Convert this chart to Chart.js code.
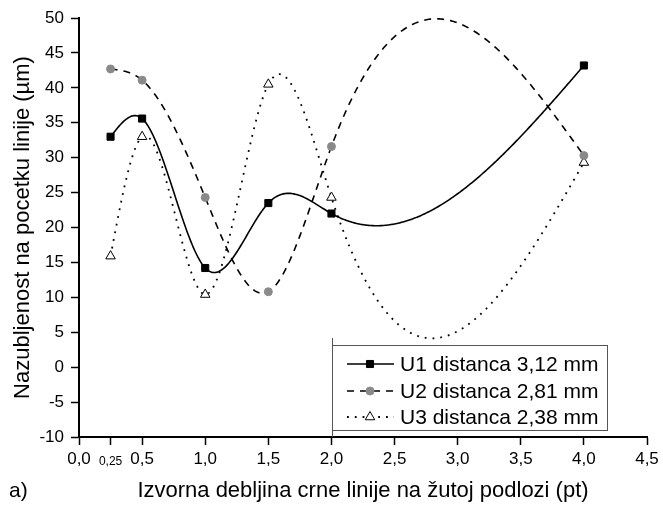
<!DOCTYPE html>
<html>
<head>
<meta charset="utf-8">
<script src="https://cdn.jsdelivr.net/npm/chart.js@4.4.1/dist/chart.umd.min.js"></script>
<style>
    html, body { margin: 0; padding: 0; background: #fff; }
    #wrap { width: 663px; height: 506px; }
</style>
</head>
<body>
<div id="wrap"><canvas id="chart" width="663" height="506"></canvas></div>
<script>
// Data
const xValues = [0.25, 0.5, 1.0, 1.5, 2.0, 4.0];
const u1Values = [33.0, 35.6, 14.2, 23.5, 22.0, 43.2];
const u2Values = [42.7, 41.1, 24.3, 10.8, 31.6, 30.3];
const u3Values = [15.9, 33.0, 10.4, 40.5, 24.3, 29.3];
const seriesLabels = ['U1 distanca 3,12 mm', 'U2 distanca 2,81 mm', 'U3 distanca 2,38 mm'];
const xTickValues = [0, 0.25, 0.5, 1.0, 1.5, 2.0, 2.5, 3.0, 3.5, 4.0, 4.5];

const FONT = "'Liberation Sans', Arial, sans-serif";

function toPoints(ys) {
    return xValues.map((x, i) => ({ x: x, y: ys[i] }));
}

// natural cubic spline through the data points (used only when drawing the curve)
function naturalSpline(xs, ys) {
    const n = xs.length;
    const h = [], l = [1], mu = [0], z = [0];
    for (let i = 0; i < n - 1; i++) h[i] = xs[i + 1] - xs[i];
    for (let i = 1; i < n - 1; i++) {
        const alpha = 3 / h[i] * (ys[i + 1] - ys[i]) - 3 / h[i - 1] * (ys[i] - ys[i - 1]);
        l[i] = 2 * (xs[i + 1] - xs[i - 1]) - h[i - 1] * mu[i - 1];
        mu[i] = h[i] / l[i];
        z[i] = (alpha - h[i - 1] * z[i - 1]) / l[i];
    }
    const b = [], c = [], d = [];
    c[n - 1] = 0;
    for (let j = n - 2; j >= 0; j--) {
        c[j] = z[j] - mu[j] * c[j + 1];
        b[j] = (ys[j + 1] - ys[j]) / h[j] - h[j] * (c[j + 1] + 2 * c[j]) / 3;
        d[j] = (c[j + 1] - c[j]) / (3 * h[j]);
    }
    return function(x) {
        let j = 0;
        while (j < n - 2 && x > xs[j + 1]) j++;
        const dx = x - xs[j];
        return ys[j] + b[j] * dx + c[j] * dx * dx + d[j] * dx * dx * dx;
    };
}

const splinePlugin = {
    id: 'splineCurves',
    beforeDatasetsDraw(chart) {
        const ctx = chart.ctx;
        const xs = chart.scales.x, ys = chart.scales.y;
        chart.data.datasets.forEach(ds => {
            const px = ds.data.map(p => p.x);
            const py = ds.data.map(p => p.y);
            const f = naturalSpline(px, py);
            const x0 = px[0], x1 = px[px.length - 1];
            const steps = 400;
            ctx.save();
            ctx.beginPath();
            for (let i = 0; i <= steps; i++) {
                const xv = x0 + (x1 - x0) * i / steps;
                const X = xs.getPixelForValue(xv);
                const Y = ys.getPixelForValue(f(xv));
                if (i === 0) ctx.moveTo(X, Y); else ctx.lineTo(X, Y);
            }
            ctx.strokeStyle = '#000';
            ctx.lineWidth = ds.curveWidth;
            ctx.setLineDash(ds.curveDash);
            ctx.stroke();
            ctx.restore();
        });
    }
};

const legendPlugin = {
    id: 'boxLegend',
    afterDraw(chart) {
        const ctx = chart.ctx;
        const left = 332, top = 345, right = 607, bottom = 430;
        ctx.save();
        ctx.strokeStyle = '#555';
        ctx.lineWidth = 1;
        ctx.strokeRect(left + 0.5, top + 0.5, right - left, bottom - top);
        ctx.beginPath();
        ctx.moveTo(left + 0.5, 338);
        ctx.lineTo(left + 0.5, 437);
        ctx.stroke();

        const rowY = [364, 391, 417];
        chart.data.datasets.forEach((ds, i) => {
            const y = rowY[i];
            ctx.beginPath();
            ctx.setLineDash(ds.curveDash);
            ctx.strokeStyle = '#000';
            ctx.lineWidth = ds.curveWidth;
            ctx.moveTo(347, y);
            ctx.lineTo(394, y);
            ctx.stroke();
            ctx.setLineDash([]);
            ctx.fillStyle = ds.pointBackgroundColor;
            ctx.strokeStyle = ds.pointBorderColor;
            ctx.lineWidth = ds.pointBorderWidth;
            Chart.helpers.drawPoint(ctx, {
                pointStyle: ds.pointStyle,
                radius: ds.pointRadius,
                rotation: 0,
                borderWidth: ds.pointBorderWidth
            }, 370, y);
            ctx.fillStyle = '#000';
            ctx.font = '21px ' + FONT;
            ctx.textAlign = 'left';
            ctx.textBaseline = 'middle';
            ctx.fillText(ds.label, 400, y + 1);
        });

        ctx.font = '21px ' + FONT;
        ctx.fillStyle = '#000';
        ctx.textAlign = 'left';
        ctx.textBaseline = 'middle';
        ctx.fillText('a)', 9, 491);
        ctx.restore();
    }
};

const ctx = document.getElementById('chart').getContext('2d');
new Chart(ctx, {
    type: 'scatter',
    data: {
        datasets: [{
            label: seriesLabels[0],
            data: toPoints(u1Values),
            pointStyle: 'rect',
            pointRadius: 5,
            pointBackgroundColor: '#000',
            pointBorderColor: '#000',
            pointBorderWidth: 1,
            curveDash: [],
            curveWidth: 1.6
        }, {
            label: seriesLabels[1],
            data: toPoints(u2Values),
            pointStyle: 'circle',
            pointRadius: 4,
            pointBackgroundColor: '#8a8a8a',
            pointBorderColor: '#8a8a8a',
            pointBorderWidth: 1,
            curveDash: [7, 6],
            curveWidth: 1.6
        }, {
            label: seriesLabels[2],
            data: toPoints(u3Values),
            pointStyle: 'triangle',
            pointRadius: 5.5,
            pointBackgroundColor: '#fff',
            pointBorderColor: '#000',
            pointBorderWidth: 1,
            curveDash: [1.8, 6],
            curveWidth: 1.8
        }]
    },
    options: {
        responsive: false,
        animation: false,
        layout: { padding: { top: 18, right: 16, left: 0, bottom: 0 } },
        plugins: {
            legend: { display: false },
            tooltip: { enabled: false }
        },
        scales: {
            x: {
                type: 'linear',
                min: 0,
                max: 4.5,
                afterBuildTicks: scale => {
                    scale.ticks = xTickValues.map(v => ({ value: v }));
                },
                afterFit: scale => { scale.height = 69; },
                ticks: {
                    autoSkip: false,
                    maxRotation: 0,
                    padding: 4,
                    color: '#000',
                    font: c => (c.tick && c.tick.value === 0.25)
                        ? { family: FONT, size: 12, lineHeight: 2.1 }
                        : { family: FONT, size: 17 },
                    callback: function(value) {
                        if (value === 0.25) return '0,25';
                        return value.toFixed(1).replace('.', ',');
                    }
                },
                grid: {
                    drawOnChartArea: false,
                    drawTicks: true,
                    tickLength: 8,
                    tickColor: '#000',
                    tickWidth: 1.5
                },
                border: { display: true, color: '#000', width: 2 },
                title: {
                    display: true,
                    text: 'Izvorna debljina crne linije na žutoj podlozi (pt)',
                    color: '#000',
                    font: { family: FONT, size: 22 },
                    padding: { top: 0, bottom: 2 }
                }
            },
            y: {
                min: -10,
                max: 50,
                afterFit: scale => { scale.width = 79; },
                ticks: {
                    stepSize: 5,
                    padding: 7,
                    color: '#000',
                    font: { family: FONT, size: 17 }
                },
                grid: {
                    drawOnChartArea: false,
                    drawTicks: true,
                    tickLength: 8,
                    tickColor: '#000',
                    tickWidth: 1.5
                },
                border: { display: true, color: '#000', width: 2 },
                title: {
                    display: true,
                    text: 'Nazubljenost na pocetku linije (µm)',
                    color: '#000',
                    font: { family: FONT, size: 22 },
                    padding: { top: 10, bottom: 0 }
                }
            }
        }
    },
    plugins: [splinePlugin, legendPlugin]
});
</script>
</body>
</html>
